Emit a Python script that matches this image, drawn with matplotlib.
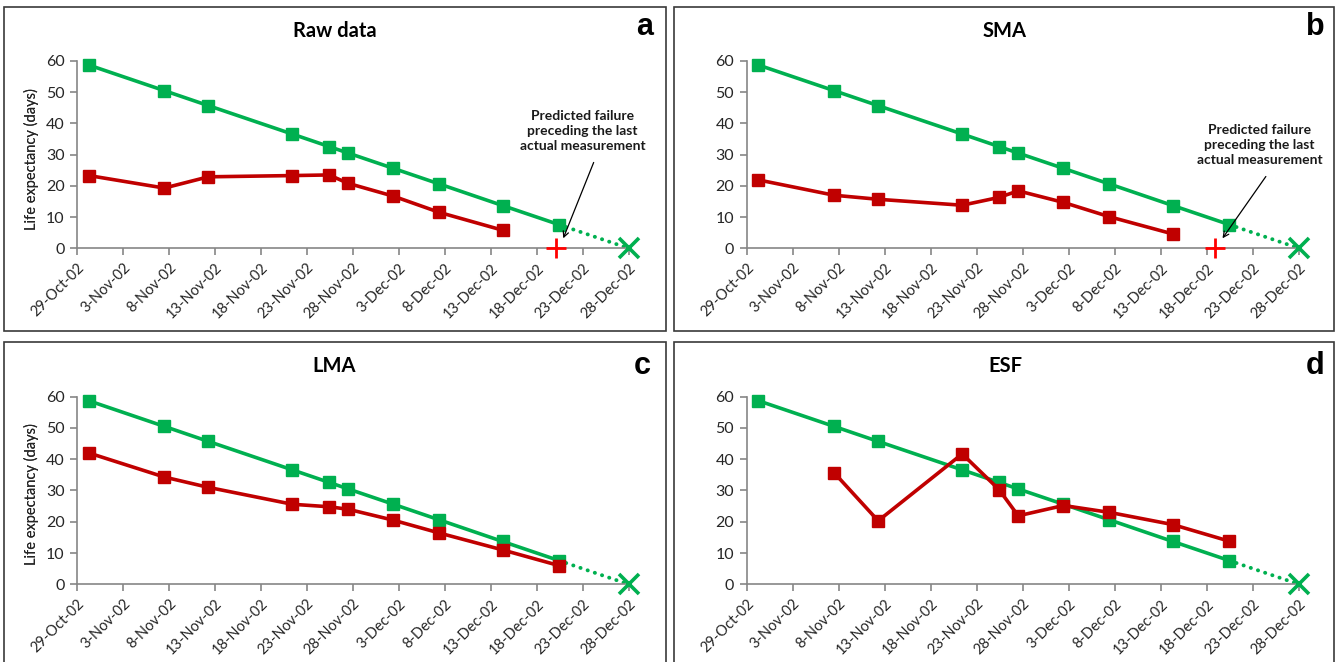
import matplotlib
matplotlib.use("Agg")
import matplotlib.pyplot as plt
from matplotlib.patches import Rectangle
import pandas as pd

# measurement dates (fractional days) and the actual life expectancy (days to failure)
meas_dates = pd.to_datetime([
    "2002-10-30 07:00", "2002-11-07 12:00", "2002-11-12 07:00", "2002-11-21 10:00",
    "2002-11-25 10:00", "2002-11-27 12:00", "2002-12-02 10:00", "2002-12-07 10:00",
    "2002-12-14 07:00", "2002-12-20 10:00",
])
failure_date = pd.Timestamp("2002-12-28")
actual_life = [58.7, 50.5, 45.7, 36.6, 32.6, 30.5, 25.6, 20.6, 13.7, 7.6]

# predicted life expectancy per method
raw_pred = [23.3, 19.3, 22.9, 23.3, 23.5, 20.8, 16.7, 11.5, 5.8]   # measurements 1-9
sma_pred = [21.9, 17.0, 15.7, 13.8, 16.3, 18.4, 14.7, 10.1, 4.6]   # measurements 1-9
lma_pred = [42.0, 34.3, 31.0, 25.6, 24.8, 24.0, 20.5, 16.4, 11.0, 6.0]  # 1-10
esf_pred = [35.7, 20.3, 41.7, 30.3, 21.9, 25.2, 23.0, 19.1, 13.8]  # measurements 2-10

tick_dates = pd.date_range("2002-10-29", "2002-12-28", freq="5D")
tick_labels = [f"{d.day}-{d.strftime('%b-%y')}" for d in tick_dates]

GREEN = "#00B050"
RED = "#C00000"
W, H = 1337, 662

fig = plt.figure(figsize=(W / 100, H / 100), dpi=100)


def px_rect(left, top, right, bottom):
    return [left / W, 1 - bottom / H, (right - left) / W, (bottom - top) / H]


def fx(x):
    return x / W


def fy(y):
    return 1 - y / H


panels = [
    # title, letter, red dates, red values, box, axes rect, title pos, letter pos, annotate
    ("Raw data", "a", meas_dates[:9], raw_pred, (4, 7, 666, 331),
     (77, 61, 628.6, 248.3), (334.6, 31), (645, 27), True),
    ("SMA", "b", meas_dates[:9], sma_pred, (674, 7, 1334, 331),
     (746.6, 61, 1299, 248.3), (1005, 31), (1315, 27), True),
    ("LMA", "c", meas_dates, lma_pred, (4, 342, 666, 700),
     (77, 396.7, 628.6, 584.3), (334.6, 366), (642, 366), False),
    ("ESF", "d", meas_dates[1:], esf_pred, (674, 342, 1334, 700),
     (746.6, 396.7, 1299, 584.3), (1005.6, 366), (1315, 366), False),
]

text_pos = {"a": (55.0, 37.6), "b": (55.7, 33.1)}
arrow_tail = {"a": (56.2, 27.5), "b": (56.4, 23.0)}

for title, letter, rdates, rvals, box, arect, tpos, lpos, show_fail in panels:
    l, t, r, b = box
    fig.patches.append(Rectangle((fx(l), fy(b)), fx(r - l), (b - t) / H,
                                 transform=fig.transFigure, fill=False,
                                 edgecolor="#3a3a3a", lw=1.2, zorder=0))

    ax = fig.add_axes(px_rect(*arect))
    ax.plot(meas_dates, actual_life, color=GREEN, lw=2.6, marker="s", ms=8,
            zorder=3, clip_on=False)
    ax.plot([meas_dates[-1], failure_date], [actual_life[-1], 0], color=GREEN,
            lw=2.8, linestyle=(0, (0.05, 1.9)), dash_capstyle="round", zorder=2)
    ax.plot([failure_date], [0], marker="x", color=GREEN, ms=15, mew=2.6,
            clip_on=False, zorder=4)
    ax.plot(rdates, rvals, color=RED, lw=2.6, marker="s", ms=8, zorder=4,
            clip_on=False)

    if show_fail:
        fail = rdates[-1] + pd.Timedelta(days=rvals[-1])
        ax.plot([fail], [0], marker="+", color="#FF0000", ms=14, mew=2,
                clip_on=False, zorder=5)
        start = pd.Timestamp("2002-10-29")
        tx, ty = text_pos[letter]
        ax.text(start + pd.Timedelta(days=tx), ty,
                "Predicted failure\npreceding the last\nactual measurement",
                ha="center", va="center", fontsize=10, fontweight="bold",
                family="Lato", linespacing=1.3, color="#1a1a1a")
        ax.annotate("", xy=(fail + pd.Timedelta(days=0.8), 3.2),
                    xytext=(start + pd.Timedelta(days=arrow_tail[letter][0]),
                            arrow_tail[letter][1]),
                    arrowprops=dict(arrowstyle="->", color="black", lw=0.9,
                                    mutation_scale=10, shrinkA=0, shrinkB=0))

    ax.set_xlim(tick_dates[0], tick_dates[-1])
    ax.set_ylim(0, 60)
    ax.set_xticks(tick_dates)
    ax.set_xticklabels(tick_labels, rotation=45, ha="right",
                       rotation_mode="anchor", fontsize=10.5, family="Lato")
    ax.set_yticks(range(0, 61, 10))
    ax.set_yticklabels([str(v) for v in range(0, 61, 10)], fontsize=11.5,
                       family="Lato")
    for s in ("top", "right"):
        ax.spines[s].set_visible(False)
    for s in ("left", "bottom"):
        ax.spines[s].set_color("#868686")
        ax.spines[s].set_linewidth(1.2)
    ax.tick_params(axis="both", direction="out", length=5, width=1.2,
                   color="#868686", labelcolor="#262626")
    ax.tick_params(axis="x", pad=4)
    ax.tick_params(axis="y", pad=4)

    fig.text(fx(31), fy((arect[1] + arect[3]) / 2 + 4), "Life expectancy (days)",
             rotation=90, ha="center", va="center", fontsize=10.5, family="Lato",
             color="#262626")
    fig.text(fx(tpos[0]), fy(tpos[1]), title, ha="center", va="center",
             fontsize=14.5, fontweight="bold", family="Lato", color="black")
    fig.text(fx(lpos[0]), fy(lpos[1]), letter, ha="center", va="center",
             fontsize=22, fontweight="bold", family="Liberation Sans",
             color="black")

fig.savefig("out.png", dpi=100)
